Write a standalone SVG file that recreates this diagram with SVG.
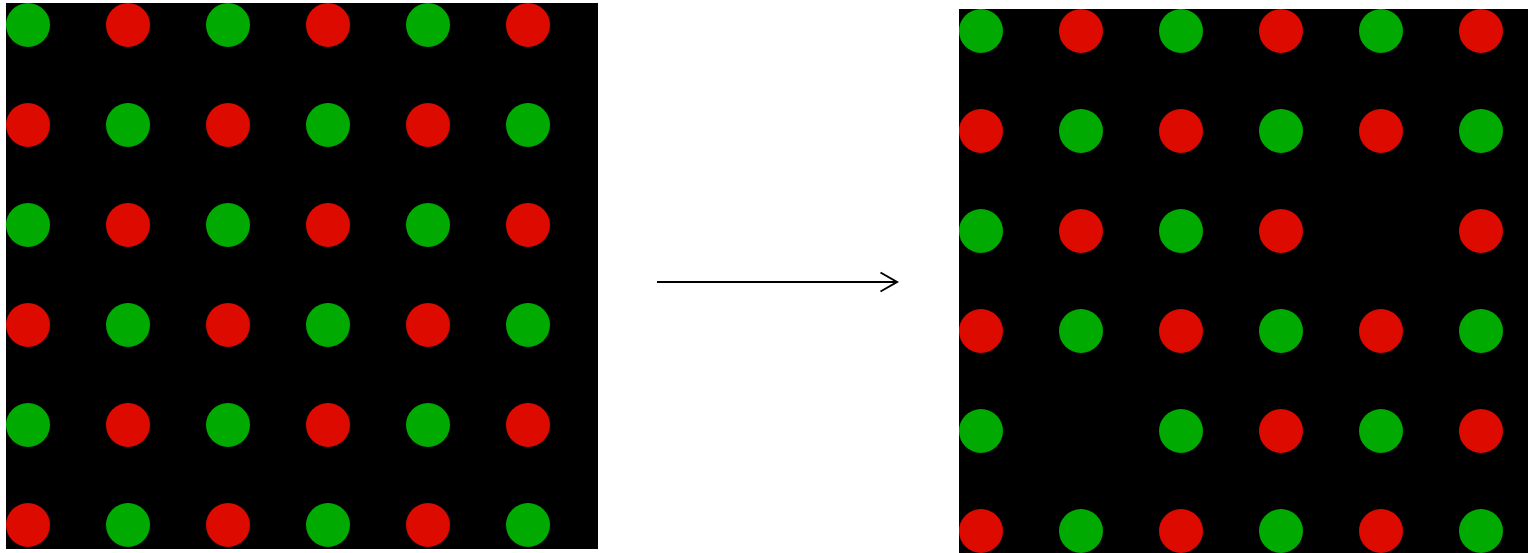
<svg xmlns="http://www.w3.org/2000/svg" width="1528" height="553" viewBox="0 0 1528 553">
<style>
.bg{fill:#000}
.g{fill:#00aa00}
.r{fill:#dd0a00}
.conn{stroke:#000;stroke-width:2;fill:none}
</style>
<rect width="1528" height="553" fill="#fff"/>
<g id="before">
<rect class="bg" x="6" y="3" width="592" height="546"/>
<g class="g">
<circle cx="28" cy="25" r="22"/><circle cx="228" cy="25" r="22"/><circle cx="428" cy="25" r="22"/>
<circle cx="128" cy="125" r="22"/><circle cx="328" cy="125" r="22"/><circle cx="528" cy="125" r="22"/>
<circle cx="28" cy="225" r="22"/><circle cx="228" cy="225" r="22"/><circle cx="428" cy="225" r="22"/>
<circle cx="128" cy="325" r="22"/><circle cx="328" cy="325" r="22"/><circle cx="528" cy="325" r="22"/>
<circle cx="28" cy="425" r="22"/><circle cx="228" cy="425" r="22"/><circle cx="428" cy="425" r="22"/>
<circle cx="128" cy="525" r="22"/><circle cx="328" cy="525" r="22"/><circle cx="528" cy="525" r="22"/>
</g>
<g class="r">
<circle cx="128" cy="25" r="22"/><circle cx="328" cy="25" r="22"/><circle cx="528" cy="25" r="22"/>
<circle cx="28" cy="125" r="22"/><circle cx="228" cy="125" r="22"/><circle cx="428" cy="125" r="22"/>
<circle cx="128" cy="225" r="22"/><circle cx="328" cy="225" r="22"/><circle cx="528" cy="225" r="22"/>
<circle cx="28" cy="325" r="22"/><circle cx="228" cy="325" r="22"/><circle cx="428" cy="325" r="22"/>
<circle cx="128" cy="425" r="22"/><circle cx="328" cy="425" r="22"/><circle cx="528" cy="425" r="22"/>
<circle cx="28" cy="525" r="22"/><circle cx="228" cy="525" r="22"/><circle cx="428" cy="525" r="22"/>
</g>
</g>
<g id="after">
<rect class="bg" x="959" y="9" width="569" height="544"/>
<g class="g">
<circle cx="981" cy="31" r="22"/><circle cx="1181" cy="31" r="22"/><circle cx="1381" cy="31" r="22"/>
<circle cx="1081" cy="131" r="22"/><circle cx="1281" cy="131" r="22"/><circle cx="1481" cy="131" r="22"/>
<circle cx="981" cy="231" r="22"/><circle cx="1181" cy="231" r="22"/>
<circle cx="1081" cy="331" r="22"/><circle cx="1281" cy="331" r="22"/><circle cx="1481" cy="331" r="22"/>
<circle cx="981" cy="431" r="22"/><circle cx="1181" cy="431" r="22"/><circle cx="1381" cy="431" r="22"/>
<circle cx="1081" cy="531" r="22"/><circle cx="1281" cy="531" r="22"/><circle cx="1481" cy="531" r="22"/>
</g>
<g class="r">
<circle cx="1081" cy="31" r="22"/><circle cx="1281" cy="31" r="22"/><circle cx="1481" cy="31" r="22"/>
<circle cx="981" cy="131" r="22"/><circle cx="1181" cy="131" r="22"/><circle cx="1381" cy="131" r="22"/>
<circle cx="1081" cy="231" r="22"/><circle cx="1281" cy="231" r="22"/><circle cx="1481" cy="231" r="22"/>
<circle cx="981" cy="331" r="22"/><circle cx="1181" cy="331" r="22"/><circle cx="1381" cy="331" r="22"/>
<circle cx="1281" cy="431" r="22"/><circle cx="1481" cy="431" r="22"/>
<circle cx="981" cy="531" r="22"/><circle cx="1181" cy="531" r="22"/><circle cx="1381" cy="531" r="22"/>
</g>
</g>
<g id="connectors">
<path class="conn" d="M657 282 H896"/>
<path class="conn" d="M880.5 272.5 L897 282 L880.5 291.5"/>
</g>
</svg>
